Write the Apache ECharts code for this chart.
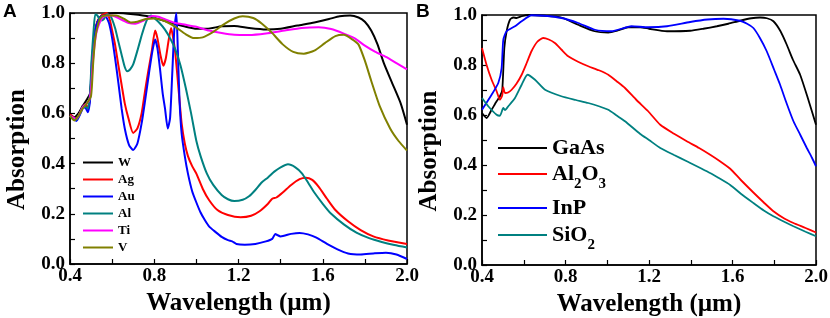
<!DOCTYPE html>
<html><head><meta charset="utf-8">
<script src="https://cdn.jsdelivr.net/npm/echarts@6/dist/echarts.min.js"></script>
<style>html,body{margin:0;padding:0;background:#fff}#c{width:830px;height:318px}</style>
</head><body><div id="c"></div>
<script>
// ---- tick labels ----
const xTickLabels = ['0.4','0.8','1.2','1.6','2.0'];
const yTickLabels = ['0.0','0.2','0.4','0.6','0.8','1.0'];
// ---- legend names ----
const namesA = ['W','Ag','Au','Al','Ti','V'];
const namesB = ['GaAs','Al2O3','InP','SiO2'];

// ---- Panel A: [wavelength (um), absorption] ----
const W = [[0.40,0.595],[0.42,0.585],[0.44,0.60],[0.46,0.63],[0.48,0.655],[0.495,0.68],[0.505,0.78],[0.515,0.90],[0.53,0.965],[0.55,0.99],[0.58,0.998],[0.62,1.0],[0.70,0.995],[0.78,0.985],[0.85,0.968],[0.90,0.956],[0.95,0.945],[1.0,0.937],[1.05,0.937],[1.12,0.947],[1.18,0.948],[1.25,0.94],[1.33,0.934],[1.40,0.937],[1.48,0.95],[1.56,0.962],[1.63,0.976],[1.68,0.987],[1.73,0.99],[1.77,0.982],[1.80,0.965],[1.83,0.93],[1.86,0.875],[1.89,0.80],[1.93,0.72],[1.97,0.64],[2.0,0.555]];
const Ag = [[0.40,0.595],[0.41,0.59],[0.43,0.575],[0.45,0.605],[0.47,0.635],[0.485,0.625],[0.495,0.66],[0.505,0.78],[0.515,0.90],[0.53,0.965],[0.55,0.99],[0.575,1.0],[0.59,0.97],[0.60,0.93],[0.614,0.874],[0.63,0.79],[0.645,0.714],[0.66,0.64],[0.677,0.582],[0.70,0.522],[0.72,0.54],[0.74,0.60],[0.756,0.688],[0.772,0.77],[0.788,0.847],[0.804,0.93],[0.815,0.90],[0.83,0.83],[0.843,0.79],[0.855,0.82],[0.868,0.89],[0.88,0.94],[0.89,0.90],[0.90,0.84],[0.915,0.70],[0.93,0.56],[0.945,0.48],[0.96,0.43],[0.98,0.39],[1.0,0.36],[1.03,0.30],[1.06,0.255],[1.10,0.215],[1.15,0.195],[1.21,0.186],[1.26,0.192],[1.30,0.21],[1.34,0.24],[1.36,0.26],[1.38,0.265],[1.41,0.285],[1.45,0.315],[1.49,0.338],[1.52,0.344],[1.55,0.335],[1.58,0.308],[1.62,0.26],[1.66,0.215],[1.72,0.17],[1.78,0.135],[1.84,0.11],[1.91,0.094],[2.0,0.08]];
const Au = [[0.40,0.59],[0.41,0.585],[0.43,0.57],[0.45,0.60],[0.465,0.625],[0.475,0.62],[0.485,0.605],[0.495,0.65],[0.503,0.80],[0.515,0.90],[0.527,0.955],[0.545,0.985],[0.565,0.99],[0.585,0.96],[0.60,0.90],[0.614,0.82],[0.63,0.72],[0.645,0.62],[0.66,0.54],[0.68,0.475],[0.70,0.454],[0.72,0.48],[0.74,0.56],[0.756,0.648],[0.775,0.76],[0.791,0.847],[0.804,0.894],[0.815,0.86],[0.827,0.78],[0.84,0.68],[0.851,0.62],[0.864,0.54],[0.875,0.58],[0.885,0.75],[0.895,0.93],[0.905,1.0],[0.912,0.85],[0.92,0.65],[0.93,0.52],[0.945,0.43],[0.96,0.36],[0.98,0.29],[1.0,0.245],[1.02,0.205],[1.04,0.175],[1.06,0.15],[1.09,0.128],[1.12,0.108],[1.15,0.095],[1.17,0.09],[1.19,0.08],[1.23,0.077],[1.28,0.08],[1.33,0.09],[1.36,0.10],[1.375,0.12],[1.385,0.115],[1.40,0.11],[1.45,0.12],[1.49,0.124],[1.53,0.118],[1.57,0.105],[1.62,0.08],[1.67,0.058],[1.72,0.042],[1.78,0.038],[1.84,0.042],[1.90,0.045],[1.95,0.038],[2.0,0.02]];
const Al = [[0.40,0.59],[0.41,0.585],[0.43,0.575],[0.45,0.605],[0.465,0.63],[0.475,0.625],[0.485,0.62],[0.495,0.68],[0.503,0.82],[0.512,0.93],[0.52,0.995],[0.53,0.99],[0.545,0.97],[0.56,0.975],[0.575,0.995],[0.59,0.99],[0.60,0.975],[0.614,0.94],[0.63,0.885],[0.645,0.834],[0.66,0.785],[0.672,0.768],[0.685,0.775],[0.70,0.795],[0.72,0.85],[0.74,0.91],[0.756,0.953],[0.77,0.98],[0.785,0.99],[0.80,0.98],[0.825,0.96],[0.85,0.935],[0.875,0.90],[0.90,0.855],[0.925,0.79],[0.95,0.70],[0.975,0.60],[1.0,0.49],[1.02,0.43],[1.05,0.36],[1.08,0.315],[1.12,0.275],[1.15,0.258],[1.18,0.251],[1.22,0.256],[1.25,0.27],[1.28,0.295],[1.31,0.325],[1.34,0.345],[1.37,0.368],[1.40,0.385],[1.435,0.397],[1.47,0.385],[1.50,0.362],[1.53,0.325],[1.56,0.285],[1.60,0.24],[1.64,0.20],[1.70,0.158],[1.76,0.125],[1.82,0.103],[1.88,0.088],[1.94,0.076],[2.0,0.066]];
const Ti = [[0.40,0.59],[0.43,0.578],[0.46,0.625],[0.49,0.65],[0.50,0.70],[0.51,0.82],[0.525,0.92],[0.54,0.96],[0.56,0.985],[0.60,0.99],[0.64,0.975],[0.68,0.96],[0.71,0.957],[0.75,0.97],[0.79,0.988],[0.82,0.985],[0.86,0.972],[0.90,0.96],[0.95,0.953],[1.0,0.945],[1.06,0.93],[1.12,0.92],[1.18,0.913],[1.25,0.912],[1.33,0.918],[1.42,0.93],[1.50,0.94],[1.58,0.943],[1.64,0.936],[1.70,0.918],[1.75,0.90],[1.80,0.87],[1.85,0.845],[1.90,0.825],[1.95,0.80],[2.0,0.775]];
const V = [[0.40,0.59],[0.42,0.572],[0.44,0.59],[0.46,0.62],[0.48,0.64],[0.50,0.67],[0.51,0.80],[0.52,0.90],[0.535,0.96],[0.55,0.985],[0.58,0.99],[0.62,0.99],[0.66,0.975],[0.69,0.962],[0.72,0.965],[0.76,0.976],[0.80,0.978],[0.85,0.968],[0.90,0.945],[0.95,0.915],[0.99,0.9],[1.03,0.903],[1.08,0.925],[1.13,0.955],[1.18,0.978],[1.22,0.987],[1.27,0.98],[1.31,0.958],[1.36,0.92],[1.41,0.875],[1.46,0.845],[1.51,0.838],[1.56,0.85],[1.61,0.88],[1.66,0.908],[1.70,0.913],[1.74,0.895],[1.77,0.874],[1.80,0.81],[1.83,0.73],[1.87,0.63],[1.92,0.54],[1.96,0.49],[2.0,0.452]];

// ---- Panel B ----
const GaAs = [[0.40,0.608],[0.422,0.588],[0.446,0.621],[0.47,0.655],[0.486,0.675],[0.497,0.70],[0.507,0.868],[0.518,0.935],[0.534,0.981],[0.55,0.99],[0.566,0.988],[0.59,0.995],[0.622,1.0],[0.70,0.997],[0.78,0.99],[0.86,0.961],[0.94,0.935],[1.005,0.93],[1.05,0.938],[1.10,0.951],[1.158,0.951],[1.20,0.945],[1.286,0.935],[1.397,0.937],[1.46,0.945],[1.525,0.955],[1.58,0.965],[1.636,0.977],[1.69,0.987],[1.732,0.99],[1.765,0.987],[1.796,0.975],[1.83,0.935],[1.86,0.881],[1.89,0.82],[1.924,0.761],[1.96,0.67],[2.0,0.561]];
const Al2O3 = [[0.40,0.868],[0.422,0.80],[0.446,0.741],[0.47,0.695],[0.486,0.661],[0.497,0.679],[0.502,0.711],[0.51,0.688],[0.525,0.69],[0.542,0.701],[0.565,0.725],[0.59,0.761],[0.615,0.81],[0.637,0.855],[0.665,0.893],[0.693,0.908],[0.72,0.902],[0.749,0.888],[0.78,0.862],[0.813,0.835],[0.86,0.813],[0.909,0.795],[0.96,0.779],[1.005,0.761],[1.045,0.735],[1.085,0.708],[1.14,0.66],[1.196,0.615],[1.254,0.561],[1.32,0.525],[1.381,0.495],[1.44,0.468],[1.493,0.441],[1.54,0.415],[1.589,0.385],[1.64,0.34],[1.70,0.29],[1.75,0.25],[1.796,0.215],[1.85,0.185],[1.892,0.168],[1.95,0.148],[2.0,0.13]];
const InP = [[0.40,0.621],[0.446,0.681],[0.478,0.728],[0.494,0.788],[0.502,0.901],[0.518,0.935],[0.558,0.955],[0.59,0.975],[0.637,0.999],[0.70,0.997],[0.781,0.988],[0.861,0.968],[0.941,0.941],[1.02,0.935],[1.116,0.955],[1.196,0.951],[1.286,0.955],[1.397,0.972],[1.48,0.982],[1.557,0.985],[1.636,0.977],[1.67,0.965],[1.70,0.948],[1.73,0.91],[1.764,0.855],[1.80,0.78],[1.828,0.721],[1.86,0.645],[1.892,0.575],[1.925,0.52],[1.956,0.468],[1.98,0.43],[2.0,0.395]];
const SiO2 = [[0.40,0.668],[0.43,0.635],[0.47,0.601],[0.486,0.597],[0.502,0.628],[0.51,0.62],[0.526,0.635],[0.558,0.668],[0.59,0.721],[0.618,0.761],[0.654,0.741],[0.702,0.701],[0.78,0.675],[0.85,0.66],[0.909,0.648],[0.96,0.635],[1.005,0.621],[1.045,0.598],[1.085,0.575],[1.158,0.524],[1.20,0.50],[1.254,0.468],[1.32,0.44],[1.381,0.415],[1.477,0.375],[1.53,0.35],[1.589,0.32],[1.64,0.285],[1.70,0.248],[1.75,0.218],[1.796,0.195],[1.85,0.172],[1.892,0.155],[1.95,0.133],[2.0,0.115]];

const colorsA = {W:'#000000',Ag:'#ff0000',Au:'#0000ff',Al:'#008080',Ti:'#ff00ff',V:'#808000'};
const colorsB = {GaAs:'#000000',Al2O3:'#ff0000',InP:'#0000ff',SiO2:'#008080'};
const dataA = {W, Ag, Au, Al, Ti, V};
const dataB = {GaAs, Al2O3, InP, SiO2};

const SERIF = '"Liberation Serif","Times New Roman",serif';
function lab(list){ return v => list.find(t => Math.abs(parseFloat(t)-v) < 1e-6) || ''; }

function xAxis(g){
  return {type:'value', gridIndex:g, min:0.4, max:2.0, interval:0.4,
    name:'Wavelength (µm)', nameLocation:'middle', nameGap:16,
    nameTextStyle:{fontFamily:SERIF, fontWeight:'bold', fontSize:25, color:'#000'},
    axisLine:{show:true, onZero:false, lineStyle:{color:'#000', width:1.5}},
    axisTick:{show:true, inside:true, length:5, lineStyle:{color:'#000', width:1.2}},
    minorTick:{show:true, splitNumber:2, length:5, lineStyle:{color:'#000', width:1.2}},
    axisLabel:{margin:3, showMinLabel:true, showMaxLabel:true, hideOverlap:false, fontFamily:SERIF, fontWeight:'bold', fontSize:19, color:'#000', formatter:lab(xTickLabels)},
    splitLine:{show:false}, minorSplitLine:{show:false}};
}
function yAxis(g){
  return {type:'value', gridIndex:g, min:0, max:1, interval:0.2,
    name:'Absorption', nameLocation:'middle', nameGap:40, nameRotate:90,
    nameTextStyle:{fontFamily:SERIF, fontWeight:'bold', fontSize:25, color:'#000', padding:[0,22,0,0]},
    axisLine:{show:true, onZero:false, lineStyle:{color:'#000', width:1.5}},
    axisTick:{show:true, inside:true, length:5, lineStyle:{color:'#000', width:1.2}},
    minorTick:{show:true, splitNumber:2, length:5, lineStyle:{color:'#000', width:1.2}},
    axisLabel:{margin:5, showMinLabel:true, showMaxLabel:true, hideOverlap:false, fontFamily:SERIF, fontWeight:'bold', fontSize:19, color:'#000', formatter:lab(yTickLabels)},
    splitLine:{show:false}, minorSplitLine:{show:false}};
}

const series = [];
namesA.forEach(n => series.push({name:n, type:'line', xAxisIndex:0, yAxisIndex:0, data:dataA[n], symbol:'none', showSymbol:false, smooth:0.2, color:colorsA[n], lineStyle:{color:colorsA[n], width:2}, emphasis:{disabled:true}, animation:false}));
namesB.forEach(n => series.push({name:n, type:'line', xAxisIndex:1, yAxisIndex:1, data:dataB[n], symbol:'none', showSymbol:false, smooth:0.2, color:colorsB[n], lineStyle:{color:colorsB[n], width:1.8}, emphasis:{disabled:true}, animation:false}));

const richB = {
  n:{fontFamily:SERIF, fontWeight:'bold', fontSize:22, lineHeight:22, color:'#000'},
  s:{fontFamily:SERIF, fontWeight:'bold', fontSize:15, lineHeight:15, padding:[21,0,0,0], color:'#000'}
};
function fmtB(name){
  return name.match(/\d+|\D+/g).map(p => /\d/.test(p) ? '{s|'+p+'}' : '{n|'+p+'}').join('');
}
const topsB = [137, 156, 197, 217];
const legends = [{
  orient:'vertical', left:83, top:154, padding:0, itemGap:0, itemWidth:30, itemHeight:2, icon:'rect',
  selectedMode:false, data:namesA,
  textStyle:{fontFamily:SERIF, fontWeight:'bold', fontSize:13, lineHeight:17, color:'#000'}
}];
namesB.forEach((n,i) => legends.push({
  orient:'vertical', left:498, top:topsB[i], padding:0, itemGap:0, itemWidth:49, itemHeight:2, icon:'rect',
  selectedMode:false, data:[n], formatter:fmtB,
  textStyle:{fontFamily:SERIF, fontWeight:'bold', fontSize:22, lineHeight:22, color:'#000', rich:richB}
}));

const chart = echarts.init(document.getElementById('c'), null, {renderer:'canvas'});
chart.setOption({
  animation:false,
  backgroundColor:'#fff',
  grid:[
    {left:70, top:13, width:337, height:251, show:true, borderColor:'#000', borderWidth:1.5, backgroundColor:'transparent', containLabel:false, outerBoundsMode:'none'},
    {left:482, top:15, width:334, height:250, show:true, borderColor:'#000', borderWidth:1.5, backgroundColor:'transparent', containLabel:false, outerBoundsMode:'none'}
  ],
  xAxis:[xAxis(0), xAxis(1)],
  yAxis:[yAxis(0), yAxis(1)],
  legend:legends,
  series:series,
  graphic:[
    {type:'text', left:3, top:2, style:{text:'A', font:'bold 19px "Liberation Sans", Arial, sans-serif', fill:'#000'}},
    {type:'text', left:416, top:2, style:{text:'B', font:'bold 19px "Liberation Sans", Arial, sans-serif', fill:'#000'}}
  ]
});
</script></body></html>
